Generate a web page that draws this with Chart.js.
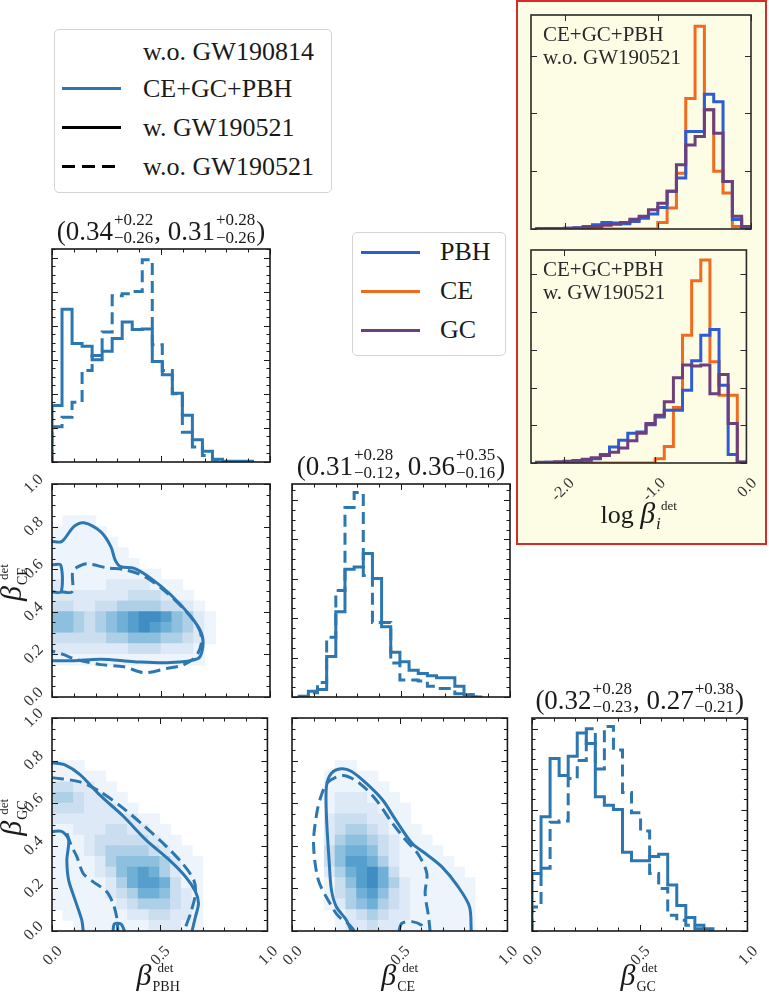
<!DOCTYPE html>
<html>
<head>
<meta charset="utf-8">
<title>corner plot</title>
<script src="https://cdn.jsdelivr.net/npm/chart.js@4.4.1/dist/chart.umd.min.js"></script>
<style>
    html, body { margin: 0; padding: 0; background: #fff; }
    body { position: relative; width: 769px; height: 996px; overflow: hidden; font-family: 'Liberation Serif', 'DejaVu Serif', serif; color: #1a1a1a; }
    canvas { position: absolute; }
    .box { position: absolute; border: 1px solid #d4d4d4; border-radius: 5px; background: #fff; box-sizing: border-box; }
    .leg-line { position: absolute; height: 3px; }
    .leg-text { position: absolute; font-size: 26px; line-height: 30px; white-space: nowrap; }
    #inset { position: absolute; left: 516px; top: 0; width: 251px; height: 545px; border: 2px solid #d62b2b; background: #fdfde6; box-sizing: border-box; }
</style>
</head>
<body>
<div id="inset"></div>

<div class="box" style="left:54px;top:29px;width:278px;height:164px;"></div>
<div class="leg-text" style="left:143px;top:37px;">w.o. GW190814</div>
<div class="leg-line" style="left:62px;top:87px;width:59px;background:#2c77b1;"></div>
<div class="leg-text" style="left:143px;top:74px;">CE+GC+PBH</div>
<div class="leg-line" style="left:62px;top:126px;width:59px;background:#000;"></div>
<div class="leg-text" style="left:143px;top:113px;">w. GW190521</div>
<div class="leg-line" style="left:62px;top:165px;width:59px;background:repeating-linear-gradient(to right,#000 0 13px,transparent 13px 20px);"></div>
<div class="leg-text" style="left:143px;top:152px;">w.o. GW190521</div>

<div class="box" style="left:352px;top:232px;width:154px;height:124px;"></div>
<div class="leg-line" style="left:361px;top:251px;width:59px;background:#2f5bd3;"></div>
<div class="leg-text" style="left:440px;top:237px;">PBH</div>
<div class="leg-line" style="left:361px;top:290px;width:59px;background:#f06b1f;"></div>
<div class="leg-text" style="left:440px;top:276px;">CE</div>
<div class="leg-line" style="left:361px;top:329px;width:59px;background:#6d3f7d;"></div>
<div class="leg-text" style="left:440px;top:315px;">GC</div>

<script>
// 1D marginals (fraction of panel height), 20 bins each
var PBH_BIN0 = 0, PBH_BINW = 0.046;
var PBH_SOLID = [0.265, 0.717, 0.556, 0.543, 0.48, 0.52, 0.58, 0.657, 0.622, 0.625, 0.472, 0.41, 0.323, 0.22, 0.105, 0.05, 0.013, 0.004, 0.003, 0.003];
var PBH_DASHED = [0.165, 0.21, 0.28, 0.43, 0.50, 0.61, 0.78, 0.79, 0.80, 0.95, 0.55, 0.43, 0.32, 0.14, 0.07, 0.03, 0.01, 0, 0, 0];

var CE_BIN0 = 0.033, CE_BINW = 0.042;
var CE_SOLID = [0.003, 0.027, 0.035, 0.19, 0.40, 0.60, 0.61, 0.674, 0.556, 0.33, 0.21, 0.165, 0.126, 0.11, 0.10, 0.09, 0.09, 0.05, 0.01, 0];
var CE_DASHED = [0, 0.02, 0.068, 0.28, 0.50, 0.89, 0.96, 0.57, 0.35, 0.35, 0.16, 0.08, 0.08, 0.075, 0.05, 0.04, 0.04, 0.015, 0.01, 0];

var GC_BIN0 = 0, GC_BINW = 0.042;
var GC_SOLID = [0.27, 0.536, 0.81, 0.73, 0.82, 0.93, 0.88, 0.63, 0.59, 0.57, 0.37, 0.33, 0.33, 0.35, 0.36, 0.216, 0.12, 0.063, 0.027, 0.01];
var GC_DASHED = [0.113, 0.295, 0.51, 0.516, 0.716, 0.80, 0.95, 0.76, 0.96, 0.85, 0.65, 0.555, 0.47, 0.27, 0.2, 0.074, 0.05, 0.027, 0.01, 0];

var TITLE_PBH = ['0.34', '+0.22', '\u22120.26', '0.31', '+0.28', '\u22120.26'];
var TITLE_CE = ['0.31', '+0.28', '\u22120.12', '0.36', '+0.35', '\u22120.16'];
var TITLE_GC = ['0.32', '+0.28', '\u22120.23', '0.27', '+0.38', '\u22120.21'];

// inset: log beta histograms, 23 bins of 0.1 from -2.3
var LOG_BIN0 = -2.3, LOG_BINW = 0.1;
var WO_PBH = [0.001, 0.002, 0.002, 0.004, 0.006, 0.012, 0.02, 0.03, 0.028, 0.025, 0.035, 0.05, 0.07, 0.10, 0.176, 0.238, 0.456, 0.456, 0.63, 0.595, 0.222, 0.044, 0.002];
var WO_CE = [0, 0, 0, 0, 0, 0, 0, 0, 0, 0, 0, 0, 0, 0.03, 0.098, 0.26, 0.61, 0.948, 0.557, 0.27, 0.168, 0.012, 0];
var WO_GC = [0.001, 0.002, 0.002, 0.003, 0.005, 0.008, 0.012, 0.018, 0.022, 0.03, 0.045, 0.06, 0.09, 0.12, 0.176, 0.30, 0.393, 0.432, 0.557, 0.448, 0.222, 0.06, 0.012];
var W_PBH = [0.002, 0.003, 0.004, 0.005, 0.008, 0.012, 0.02, 0.04, 0.075, 0.107, 0.14, 0.146, 0.18, 0.216, 0.248, 0.248, 0.342, 0.48, 0.60, 0.627, 0.365, 0.04, 0.003];
var W_CE = [0, 0, 0, 0, 0, 0, 0, 0, 0, 0, 0, 0, 0, 0.02, 0.078, 0.26, 0.60, 0.856, 0.953, 0.475, 0.318, 0.318, 0];
var W_GC = [0.003, 0.004, 0.006, 0.008, 0.012, 0.018, 0.025, 0.035, 0.05, 0.07, 0.105, 0.14, 0.185, 0.224, 0.287, 0.40, 0.46, 0.455, 0.46, 0.325, 0.415, 0.185, 0.005];

// 2D densities, 20x20 cells, top row first, level 0-9
var HEAT_PBH_CE = [
    '00000000000000000000', '00000000000000000000', '00000000000000000000', '01110000000000000000',
    '11111000000000000000', '11111100000000000000', '11111110000000000000', '11111111000000000000',
    '11111111110000000000', '21111222211100000000', '22222223332110000000', '33223344443321000000',
    '55434567887542100000', '55434567876542100000', '33333445554432100000', '22222223332221000000',
    '11111111111111000000', '00000000000000000000', '00000000000000000000', '00000000000000000000'
];
var HEAT_PBH_GC = [
    '00000000000000000000', '00000000000000000000', '00000000000000000000', '00000000000000000000',
    '11100000000000000000', '11111000000000000000', '33221100000000000000', '44322110000000000000',
    '33322211000000000000', '22222222110000000000', '11222332211000000000', '11123333321100000000',
    '11123444432110000000', '11112455554211000000', '11112356764211000000', '11111246776311000000',
    '11111234665321000000', '11111123444321000000', '01111112233221000000', '00111111122211000000'
];
var HEAT_CE_GC = [
    '00000000000000000000', '00000000000000000000', '00000000000000000000', '00000000000000000000',
    '00001100000000000000', '00011111000000000000', '00011111100000000000', '00012221110000000000',
    '00012222111000000000', '00023332211000000000', '00023443211100000000', '00024554321110000000',
    '00035665321111000000', '00035776421111100000', '00024678631111110000', '00013578642111111000',
    '00013467532111111000', '00012456432111111000', '00001234322111111000', '00001223221111111000'
];

// contours [x, y]
var C_PBH_CE_SOLID = [[0, 0.73], [0.045, 0.73], [0.1, 0.8], [0.146, 0.818], [0.223, 0.776], [0.27, 0.706], [0.29, 0.643], [0.315, 0.612], [0.377, 0.604], [0.454, 0.557], [0.546, 0.479], [0.638, 0.377], [0.685, 0.3], [0.692, 0.236], [0.669, 0.18], [0.53, 0.161], [0.377, 0.166], [0.223, 0.177], [0.1, 0.17], [0, 0.17]];
var C_PBH_CE_SOLID2 = [[0, 0.62], [0.04, 0.62], [0.042, 0.494], [0, 0.494]];
var C_PBH_CE_DASHED = [[0.042, 0.494], [0.092, 0.494], [0.095, 0.59], [0.12, 0.612], [0.16, 0.625], [0.254, 0.606], [0.33, 0.598], [0.423, 0.567], [0.53, 0.487], [0.623, 0.393], [0.677, 0.315], [0.685, 0.252], [0.66, 0.19], [0.6, 0.15], [0.53, 0.135], [0.423, 0.114], [0.33, 0.142], [0.223, 0.152], [0.115, 0.175], [0.05, 0.2], [0, 0.216]];

var C_PBH_GC_SOLID = [[0, 0.79], [0.06, 0.78], [0.13, 0.734], [0.22, 0.64], [0.33, 0.54], [0.436, 0.428], [0.544, 0.334], [0.62, 0.255], [0.666, 0.185], [0.68, 0.13], [0.666, 0.067], [0.65, 0]];
var C_PBH_GC_SOLID2 = [[0, 0.467], [0.046, 0.467], [0.077, 0.428], [0.069, 0.334], [0.077, 0.24], [0.107, 0.146], [0.138, 0.052], [0.145, 0]];
var C_PBH_GC_SOLID3 = [[0.283, 0], [0.29, 0.033], [0.32, 0.033], [0.337, 0]];
var C_PBH_GC_DASHED = [[0, 0.72], [0.13, 0.7], [0.222, 0.655], [0.33, 0.577], [0.42, 0.5], [0.528, 0.4], [0.605, 0.318], [0.658, 0.24], [0.666, 0.177], [0.643, 0.083], [0.613, 0]];
var C_PBH_GC_DASHED2 = [[0.069, 0.459], [0.09, 0.4], [0.115, 0.35], [0.145, 0.27], [0.19, 0.232], [0.253, 0.185], [0.283, 0.13], [0.3, 0.067], [0.306, 0]];

var C_CE_GC_SOLID = [[0.275, 0], [0.252, 0.052], [0.206, 0.114], [0.183, 0.193], [0.172, 0.334], [0.16, 0.538], [0.16, 0.68], [0.183, 0.741], [0.229, 0.762], [0.275, 0.75], [0.344, 0.694], [0.42, 0.616], [0.481, 0.522], [0.557, 0.412], [0.618, 0.365], [0.695, 0.302], [0.771, 0.208], [0.824, 0.114], [0.832, 0]];
var C_CE_GC_DASHED = [[0.29, 0], [0.265, 0.03], [0.215, 0.07], [0.176, 0.13], [0.122, 0.24], [0.1, 0.41], [0.115, 0.553], [0.137, 0.64], [0.168, 0.7], [0.237, 0.73], [0.313, 0.694], [0.39, 0.616], [0.466, 0.506], [0.527, 0.428], [0.588, 0.357], [0.626, 0.27], [0.618, 0.177], [0.634, 0.067], [0.641, 0]];
var C_CE_GC_DASHED2 = [[0.496, 0], [0.51, 0.036], [0.557, 0.044], [0.6, 0.028], [0.618, 0]];

var BLUE = '#2c77b1';
var COL_PBH = '#2f5bd3', COL_CE = '#f06b1f', COL_GC = '#6d3f7d';
var BLUES = ['rgba(0,0,0,0)', '#edf4fb', '#dde9f6', '#cadef0', '#add0e6', '#8dbfde', '#70b0d7', '#569fcd', '#3f8dc3', '#2e7bb8'];
var DASH = [12, 6];
var SERIF = "'Liberation Serif', 'DejaVu Serif', serif";

Chart.defaults.font.family = SERIF;
Chart.defaults.font.size = 16;
Chart.defaults.color = '#333';
Chart.defaults.animation = false;
Chart.defaults.events = [];
Chart.defaults.plugins.legend.display = false;
Chart.defaults.plugins.tooltip.enabled = false;

function tickValues(scale, step) {
    var out = [];
    if (!step) return out;
    for (var n = Math.ceil(scale.min / step - 1e-6); n * step <= scale.max + 1e-6; n++) out.push(n * step);
    return out;
}

var framePlugin = {
    id: 'frame',
    afterDatasetsDraw: function (chart, args, o) {
        var ctx = chart.ctx, a = chart.chartArea;
        var xs = chart.scales.x, ys = chart.scales.y;
        ctx.save();
        ctx.strokeStyle = o.color || '#1a1a1a';
        ctx.lineWidth = 1;
        ctx.beginPath();
        [[o.xMajor, 6], [o.xMinor, 3.5]].forEach(function (t) {
            tickValues(xs, t[0]).forEach(function (v) {
                var p = Math.round(xs.getPixelForValue(v)) + 0.5;
                ctx.moveTo(p, a.bottom); ctx.lineTo(p, a.bottom - t[1]);
                ctx.moveTo(p, a.top); ctx.lineTo(p, a.top + t[1]);
            });
        });
        [[o.yMajor, 6], [o.yMinor, 3.5]].forEach(function (t) {
            tickValues(ys, t[0]).forEach(function (v) {
                var p = Math.round(ys.getPixelForValue(v)) + 0.5;
                ctx.moveTo(a.left, p); ctx.lineTo(a.left + t[1], p);
                ctx.moveTo(a.right, p); ctx.lineTo(a.right - t[1], p);
            });
        });
        ctx.stroke();
        ctx.lineWidth = 1.6;
        ctx.strokeRect(a.left, a.top, a.right - a.left, a.bottom - a.top);
        ctx.restore();
    }
};

function drawStats(ctx, cx, base, p) {
    var big = '27px ' + SERIF, small = '17px ' + SERIF;
    var segs = [['(' + p[0]], [p[1], p[2]], [', ' + p[3]], [p[4], p[5]], [')']];
    var widths = segs.map(function (s) {
        if (s.length === 1) { ctx.font = big; return ctx.measureText(s[0]).width; }
        ctx.font = small;
        return Math.max(ctx.measureText(s[0]).width, ctx.measureText(s[1]).width) + 2;
    });
    var total = widths.reduce(function (m, w) { return m + w; }, 0);
    var x = cx - total / 2;
    ctx.textAlign = 'left';
    segs.forEach(function (s, i) {
        if (s.length === 1) {
            ctx.font = big; ctx.fillText(s[0], x, base);
        } else {
            ctx.font = small;
            ctx.fillText(s[0], x + 1, base - 15);
            ctx.fillText(s[1], x + 1, base + 3);
        }
        x += widths[i];
    });
}

function drawBeta(ctx, x, y, sub, rot, prefix, italicSub) {
    ctx.save();
    ctx.translate(x, y);
    ctx.rotate(rot || 0);
    ctx.textAlign = 'left';
    var fPre = '26px ' + SERIF, fB = 'italic 30px ' + SERIF;
    var fSup = '13px ' + SERIF, fSub = (italicSub ? 'italic 17px ' : '14px ') + SERIF;
    ctx.font = fPre; var wPre = prefix ? ctx.measureText(prefix).width : 0;
    ctx.font = fB; var wB = ctx.measureText('\u03b2').width;
    ctx.font = fSup; var wSup = ctx.measureText('det').width;
    ctx.font = fSub; var wSub = ctx.measureText(sub).width;
    var x0 = -(wPre + wB + 4 + Math.max(wSup + 2, wSub)) / 2;
    if (prefix) { ctx.font = fPre; ctx.fillText(prefix, x0, 0); x0 += wPre; }
    ctx.font = fB; ctx.fillText('\u03b2', x0, 0); x0 += wB + 1;
    ctx.font = fSup; ctx.fillText('det', x0 + 5, -13);
    ctx.font = fSub; ctx.fillText(sub, x0, 6);
    ctx.restore();
}

var annotPlugin = {
    id: 'annot',
    afterDraw: function (chart, args, o) {
        var ctx = chart.ctx, a = chart.chartArea;
        ctx.save();
        ctx.fillStyle = '#1a1a1a';
        ctx.textBaseline = 'alphabetic';
        if (o.stats) drawStats(ctx, (a.left + a.right) / 2, a.top - 9, o.stats);
        if (o.xLabel) drawBeta(ctx, (a.left + a.right) / 2, a.bottom + (o.xLabelDy || 54), o.xLabel, 0, o.prefix, o.italicSub);
        if (o.yLabel) drawBeta(ctx, a.left - 31, (a.top + a.bottom) / 2 - 8, o.yLabel, -Math.PI / 2, '');
        if (o.lines) {
            ctx.font = '21px ' + SERIF;
            ctx.fillStyle = '#2a2a2a';
            o.lines.forEach(function (t, i) { ctx.fillText(t, a.left + 12, a.top + 26 + i * 23); });
        }
        ctx.restore();
    }
};

Chart.register(framePlugin, annotPlugin);

function stepPoints(vals, start, width) {
    var pts = [{ x: start, y: 0 }];
    vals.forEach(function (v, i) { pts.push({ x: start + i * width, y: v }); });
    pts.push({ x: start + vals.length * width, y: 0 });
    return pts;
}

function heatPoints(rows) {
    var pts = [];
    rows.forEach(function (row, r) {
        var j = rows.length - 1 - r;
        for (var i = 0; i < row.length; i++) {
            var v = +row[i];
            if (v > 0) pts.push({ x: (i + 0.5) / row.length, y: (j + 0.5) / rows.length, v: v });
        }
    });
    return pts;
}

function toXY(arr) {
    return arr.map(function (p) { return { x: p[0], y: p[1] }; });
}

function histSet(vals, start, width, color, dashed) {
    return {
        data: stepPoints(vals, start, width), showLine: true, stepped: true,
        borderColor: color, borderWidth: 3, borderDash: dashed ? DASH : [],
        pointRadius: 0, fill: false
    };
}

function lineSet(arr, dashed) {
    return {
        data: toXY(arr), showLine: true, tension: 0.3,
        borderColor: BLUE, borderWidth: 3, borderDash: dashed ? DASH : [],
        pointRadius: 0, fill: false, clip: 2
    };
}

function heatSet(rows) {
    return {
        data: heatPoints(rows), order: 5, clip: 0,
        pointStyle: 'rect', pointBorderWidth: 0,
        pointRadius: function (c) {
            var a = c.chart.chartArea;
            if (!a) return 5;
            return (Math.max(a.right - a.left, a.bottom - a.top) / 20 + 0.8) / Math.SQRT2;
        },
        pointBackgroundColor: function (c) { return c.raw ? BLUES[c.raw.v] : BLUES[0]; }
    };
}

function axis(min, max, step, show, offset) {
    return {
        type: 'linear', min: min, max: max,
        grid: { display: false }, border: { display: false },
        ticks: {
            display: show, stepSize: step, includeBounds: false, autoSkip: false,
            minRotation: 45, maxRotation: 45, padding: 3, labelOffset: offset || 0,
            callback: function (v) { return Number(v).toFixed(1); }
        }
    };
}

function makeChart(rect, pad, config) {
    var c = document.createElement('canvas');
    var w = rect.w + pad.l + pad.r, h = rect.h + pad.t + pad.b;
    c.width = w; c.height = h;
    c.style.left = (rect.x - pad.l) + 'px';
    c.style.top = (rect.y - pad.t) + 'px';
    c.style.width = w + 'px';
    c.style.height = h + 'px';
    document.body.appendChild(c);
    config.options.responsive = false;
    config.options.maintainAspectRatio = false;
    config.options.layout = { padding: { top: pad.t, right: pad.r, left: 0, bottom: 0 } };
    config.options.scales.x.afterFit = function (s) { s.height = pad.b; };
    config.options.scales.y.afterFit = function (s) { s.width = pad.l; };
    return new Chart(c, config);
}

function cornerHist(rect, pad, solid, dashed, bin0, binw, yMajor, title, xLabel) {
    makeChart(rect, pad, {
        type: 'scatter',
        data: { datasets: [histSet(solid, bin0, binw, BLUE, false), histSet(dashed, bin0, binw, BLUE, true)] },
        options: {
            scales: { x: axis(0, 1, 0.5, !!xLabel, 8), y: axis(0, 1, yMajor, false) },
            plugins: {
                frame: { xMajor: 0.5, xMinor: 0.1, yMajor: yMajor, yMinor: yMajor / 4 },
                annot: { stats: title, xLabel: xLabel }
            }
        }
    });
}

function corner2d(rect, pad, heat, solids, dashes, xLabel, yLabel) {
    var sets = [heatSet(heat)];
    solids.forEach(function (s) { sets.push(lineSet(s, false)); });
    dashes.forEach(function (s) { sets.push(lineSet(s, true)); });
    makeChart(rect, pad, {
        type: 'scatter',
        data: { datasets: sets },
        options: {
            scales: { x: axis(0, 1, 0.5, !!xLabel, 8), y: axis(0, 1, 0.2, !!yLabel, -7) },
            plugins: {
                frame: { xMajor: 0.5, xMinor: 0.1, yMajor: 0.2, yMinor: 0.05 },
                annot: { xLabel: xLabel, yLabel: yLabel }
            }
        }
    });
}

function insetHist(rect, pad, pbh, ce, gc, yMajor, lines, labelled) {
    makeChart(rect, pad, {
        type: 'scatter',
        data: {
            datasets: [
                histSet(gc, LOG_BIN0, LOG_BINW, COL_GC, false),
                histSet(pbh, LOG_BIN0, LOG_BINW, COL_PBH, false),
                histSet(ce, LOG_BIN0, LOG_BINW, COL_CE, false)
            ]
        },
        options: {
            scales: { x: axis(-2.36, 0, 1, labelled, 8), y: axis(0, 1, yMajor, false) },
            plugins: {
                frame: { xMajor: 1, xMinor: 0, yMajor: yMajor, yMinor: 0, color: '#2a2a2a' },
                annot: labelled ? { lines: lines, xLabel: 'i', prefix: 'log ', italicSub: true, xLabelDy: 60 } : { lines: lines }
            }
        }
    });
}

// corner plot
cornerHist({ x: 52, y: 249, w: 218, h: 213 }, { l: 50, r: 14, t: 50, b: 16 }, PBH_SOLID, PBH_DASHED, PBH_BIN0, PBH_BINW, 0.16, TITLE_PBH, null);
corner2d({ x: 52, y: 484, w: 218, h: 213 }, { l: 52, r: 14, t: 16, b: 16 }, HEAT_PBH_CE, [C_PBH_CE_SOLID, C_PBH_CE_SOLID2], [C_PBH_CE_DASHED], null, 'CE');
cornerHist({ x: 292, y: 484, w: 218, h: 213 }, { l: 50, r: 14, t: 50, b: 16 }, CE_SOLID, CE_DASHED, CE_BIN0, CE_BINW, 0.185, TITLE_CE, null);
corner2d({ x: 52, y: 718, w: 218, h: 213 }, { l: 52, r: 14, t: 16, b: 65 }, HEAT_PBH_GC, [C_PBH_GC_SOLID, C_PBH_GC_SOLID2, C_PBH_GC_SOLID3], [C_PBH_GC_DASHED, C_PBH_GC_DASHED2], 'PBH', 'GC');
corner2d({ x: 292, y: 718, w: 218, h: 213 }, { l: 50, r: 14, t: 16, b: 65 }, HEAT_CE_GC, [C_CE_GC_SOLID], [C_CE_GC_DASHED, C_CE_GC_DASHED2], 'CE', null);
cornerHist({ x: 532, y: 718, w: 218, h: 213 }, { l: 50, r: 14, t: 50, b: 65 }, GC_SOLID, GC_DASHED, GC_BIN0, GC_BINW, 0.19, TITLE_GC, 'GC');

// inset
insetHist({ x: 531, y: 15, w: 220, h: 214 }, { l: 12, r: 12, t: 12, b: 10 }, WO_PBH, WO_CE, WO_GC, 0.27, ['CE+GC+PBH', 'w.o. GW190521'], false);
insetHist({ x: 531, y: 250, w: 220, h: 213 }, { l: 12, r: 12, t: 10, b: 75 }, W_PBH, W_CE, W_GC, 0.177, ['CE+GC+PBH', 'w. GW190521'], true);
</script>
</body>
</html>
